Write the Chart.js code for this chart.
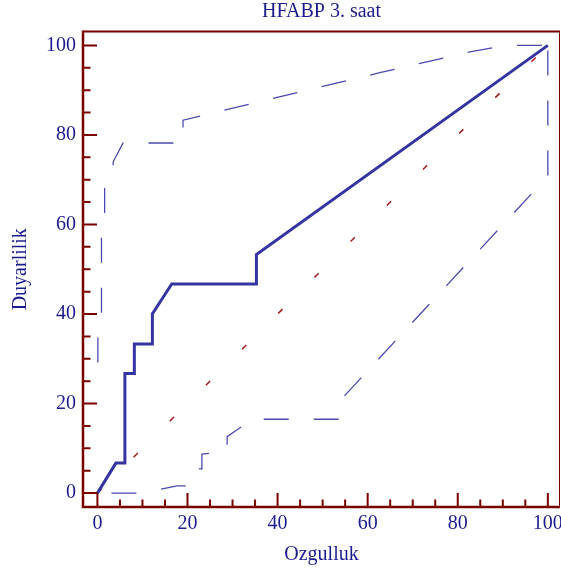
<!DOCTYPE html>
<html>
<head>
<meta charset="utf-8">
<script src="https://cdn.jsdelivr.net/npm/chart.js@4.4.1/dist/chart.umd.min.js"></script>
<style>
  html, body { margin: 0; padding: 0; background: #fff; }
  #wrap { width: 561px; height: 569px; }
</style>
</head>
<body>
<div id="wrap"><canvas id="rocChart" width="561" height="569"></canvas></div>
<script>
// ROC egrisi (100 - Ozgulluk, Duyarlilik)
const rocX = [0, 4.1, 6.1, 6.1, 8.2, 8.2, 12.2, 12.2, 16.5, 35.3, 35.3, 100];
const rocY = [0, 6.7, 6.7, 26.7, 26.7, 33.3, 33.3, 40, 46.7, 46.7, 53.3, 100];

// ust guven siniri
const upperX = [0.1, 0.1, 0.9, 0.9, 1.6, 1.6, 3.5, 3.5, 5.7, 19.0, 19.0, 62.7, 83, 89.5, 91.5, 100];
const upperY = [29.2, 35.5, 39.5, 57.5, 61.5, 68, 71.5, 74, 78.2, 78.2, 83.3, 93.9, 98.6, 99.8, 100, 100];

// alt guven siniri
const lowerX = [0, 9.8, 17.7, 20.3, 21.7, 23.2, 23.2, 28.8, 28.8, 31.1, 34.4, 53.6, 54.0, 100, 100];
const lowerY = [0, 0, 1.6, 1.6, 5.4, 5.4, 8.7, 9.3, 12.6, 14.2, 16.5, 16.5, 20.8, 70.8, 100];

// kosegen
const diagX = [0, 100];
const diagY = [0, 100];

const majorTicks = [0, 20, 40, 60, 80, 100];
const minorTicks = [5, 10, 15, 25, 30, 35, 45, 50, 55, 65, 70, 75, 85, 90, 95];

const navy = '#1c1c8e';
const frameColor = '#7a0000';

function pts(xs, ys) {
    return xs.map((x, i) => ({ x: x, y: ys[i] }));
}

// cerceve ve iceri dogru tick cizgileri
const framePlugin = {
    id: 'frame',
    afterDraw(chart) {
        const { ctx, chartArea: a, scales } = chart;
        ctx.save();
        ctx.strokeStyle = frameColor;
        // ust ve sag kenar
        ctx.lineWidth = 2;
        ctx.beginPath();
        ctx.moveTo(a.left, a.top);
        ctx.lineTo(a.right, a.top);
        ctx.stroke();
        ctx.lineWidth = 1;
        ctx.beginPath();
        ctx.moveTo(a.right - 0.5, a.top);
        ctx.lineTo(a.right - 0.5, a.bottom);
        ctx.stroke();
        // sol ve alt eksen
        ctx.lineWidth = 2.5;
        ctx.beginPath();
        ctx.moveTo(a.left, a.top - 1);
        ctx.lineTo(a.left, a.bottom);
        ctx.lineTo(a.right, a.bottom);
        ctx.stroke();

        ctx.lineWidth = 2;
        const drawTicks = (vals, len) => {
            vals.forEach(v => {
                const py = scales.y.getPixelForValue(v);
                const px = scales.x.getPixelForValue(v);
                ctx.beginPath();
                ctx.moveTo(a.left, py);
                ctx.lineTo(a.left + len, py);
                ctx.moveTo(px, a.bottom);
                ctx.lineTo(px, a.bottom - len);
                ctx.stroke();
            });
        };
        drawTicks(majorTicks, 14);
        drawTicks(minorTicks, 7.5);
        ctx.restore();
    }
};

const tickFont = { family: 'Liberation Serif', size: 20 };

new Chart(document.getElementById('rocChart'), {
    type: 'scatter',
    data: {
        datasets: [
            {
                data: pts(rocX, rocY),
                showLine: true,
                borderColor: '#3434a2',
                borderWidth: 3,
                pointRadius: 0
            },
            {
                data: pts(upperX, upperY),
                showLine: true,
                borderColor: '#4a4aae',
                borderWidth: 1.3,
                borderDash: [25, 25],
                pointRadius: 0
            },
            {
                data: pts(lowerX, lowerY),
                showLine: true,
                borderColor: '#4a4aae',
                borderWidth: 1.3,
                borderDash: [25, 25],
                borderDashOffset: 36,
                pointRadius: 0
            },
            {
                data: pts(diagX, diagY),
                showLine: true,
                borderColor: '#a21a1a',
                borderWidth: 1.5,
                borderDash: [6, 45],
                pointRadius: 0
            }
        ]
    },
    options: {
        responsive: false,
        animation: false,
        layout: { padding: { left: 0, right: 1, top: 0, bottom: 0 } },
        plugins: {
            legend: { display: false },
            tooltip: { enabled: false },
            title: {
                display: true,
                text: 'HFABP 3. saat',
                color: navy,
                fullSize: false,
                font: { family: 'Liberation Serif', size: 20, weight: 'normal' },
                padding: { top: 0, bottom: 7.5 }
            }
        },
        scales: {
            x: {
                type: 'linear',
                min: -3.2,
                max: 102.7,
                grid: { display: false, drawTicks: false },
                border: { display: false },
                afterBuildTicks: s => { s.ticks = majorTicks.map(v => ({ value: v })); },
                afterFit: s => { s.height = 62; s.paddingLeft = 0; s.paddingRight = 0; },
                ticks: { color: navy, font: tickFont, padding: 5, maxRotation: 0, autoSkip: false },
                title: {
                    display: true,
                    text: 'Ozgulluk',
                    color: navy,
                    font: { family: 'Liberation Serif', size: 20 },
                    padding: { top: 0, bottom: 2 }
                }
            },
            y: {
                type: 'linear',
                min: -3.1,
                max: 103.1,
                grid: { display: false, drawTicks: false },
                border: { display: false },
                afterBuildTicks: s => { s.ticks = majorTicks.map(v => ({ value: v })); },
                afterFit: s => { s.width = 83; s.paddingTop = 0; s.paddingBottom = 0; },
                ticks: { color: navy, font: tickFont, padding: 7, autoSkip: false },
                title: {
                    display: true,
                    text: 'Duyarlilik',
                    color: navy,
                    font: { family: 'Liberation Serif', size: 20 },
                    padding: { top: 9, bottom: 0 }
                }
            }
        }
    },
    plugins: [framePlugin]
});
</script>
</body>
</html>
